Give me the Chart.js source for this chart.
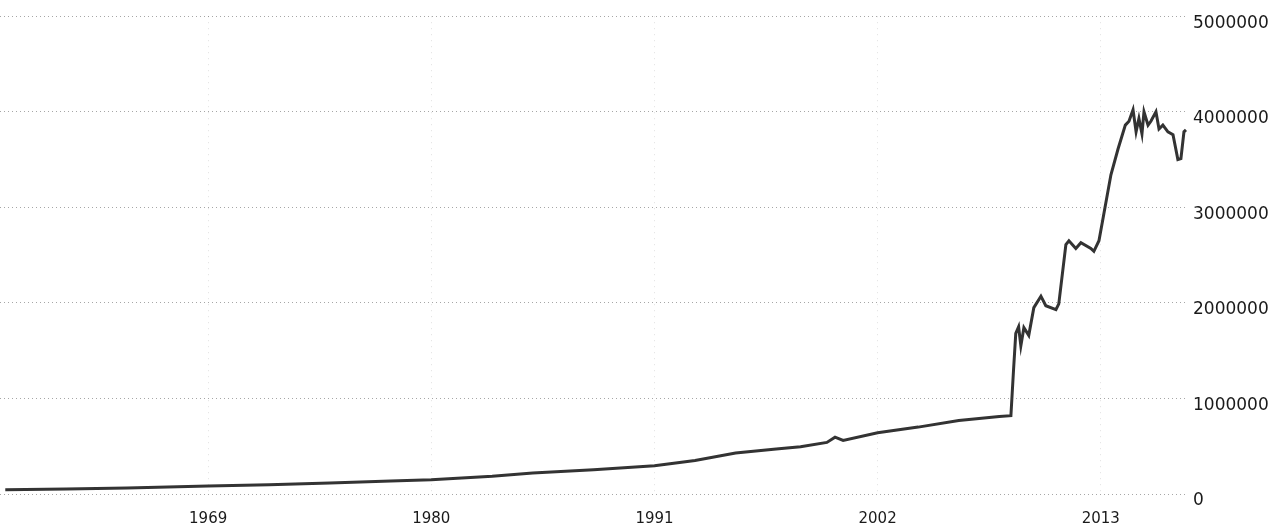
<!DOCTYPE html>
<html>
<head>
<meta charset="utf-8">
<script src="https://cdn.jsdelivr.net/npm/chart.js@4/dist/chart.umd.min.js"></script>
<style>
  html, body { margin: 0; padding: 0; background: #fff; }
  #wrap { width: 1282px; height: 530px; position: relative; }
</style>
</head>
<body>
<div id="wrap"><canvas id="c"></canvas></div>
<script>
// Years (decimal) and values
const years = [1959, 1962, 1965, 1969, 1972, 1975, 1978, 1980, 1983, 1985, 1988, 1991, 1993, 1995, 1997, 1998.2, 1999.5, 1999.9, 2000.3, 2002, 2004, 2006, 2008.0, 2008.57, 2008.7, 2008.81, 2008.95, 2009.06, 2009.21, 2009.45, 2009.70, 2010.05, 2010.29, 2010.79, 2010.93, 2011.28, 2011.43, 2011.77, 2012.02, 2012.51, 2012.66, 2012.91, 2013.15, 2013.50, 2013.85, 2014.21, 2014.39, 2014.59, 2014.74, 2014.88, 2015.03, 2015.13, 2015.33, 2015.47, 2015.72, 2015.87, 2016.06, 2016.31, 2016.56, 2016.80, 2016.95, 2017.10, 2017.2];
const values = [45000, 52000, 62000, 83000, 98000, 115000, 135000, 148000, 185000, 220000, 255000, 295000, 350000, 430000, 470000, 495000, 540000, 595000, 560000, 640000, 700000, 770000, 810000, 820000, 1300000, 1680000, 1750000, 1550000, 1740000, 1660000, 1950000, 2070000, 1970000, 1930000, 1990000, 2610000, 2650000, 2570000, 2630000, 2570000, 2540000, 2650000, 2930000, 3340000, 3610000, 3860000, 3900000, 4020000, 3790000, 3930000, 3770000, 4000000, 3860000, 3900000, 4000000, 3820000, 3860000, 3790000, 3760000, 3500000, 3510000, 3790000, 3810000];
const xTickYears = [1969, 1980, 1991, 2002, 2013];
const yTickValues = [0, 1000000, 2000000, 3000000, 4000000, 5000000];

const points = years.map((y, i) => ({ x: y, y: values[i] }));

new Chart(document.getElementById('c'), {
  type: 'line',
  data: {
    datasets: [{
      data: points,
      borderColor: '#333',
      borderWidth: 3,
      pointRadius: 0,
      tension: 0,
      fill: false
    }]
  },
  options: {
    responsive: true,
    maintainAspectRatio: false,
    animation: false,
    layout: { padding: { top: 14, left: 0, right: 0, bottom: 0 } },
    plugins: { legend: { display: false }, tooltip: { enabled: false } },
    scales: {
      x: {
        type: 'linear',
        min: 1958.74,
        max: 2017.25,
        afterBuildTicks: (scale) => { scale.ticks = xTickYears.map(v => ({ value: v })); },
        afterFit: (scale) => { scale.height = 36; },
        border: { display: false, dash: [1, 5] },
        grid: { color: 'rgba(0,0,0,0.12)', drawTicks: false },
        ticks: {
          padding: 16,
          color: '#1a1a1a',
          font: { family: 'DejaVu Sans', size: 15 },
          callback: (v) => String(v),
          maxRotation: 0
        }
      },
      y: {
        position: 'right',
        min: 0,
        max: 5000000,
        afterBuildTicks: (scale) => { scale.ticks = yTickValues.map(v => ({ value: v })); },
        afterFit: (scale) => { scale.width = 95; },
        border: { display: false, dash: [1, 3] },
        grid: { color: 'rgba(0,0,0,0.35)', drawTicks: false },
        ticks: {
          padding: 6,
          labelOffset: 7,
          color: '#1a1a1a',
          font: { family: 'DejaVu Sans', size: 17 },
          callback: (v) => String(v)
        }
      }
    }
  }
});
</script>
</body>
</html>
